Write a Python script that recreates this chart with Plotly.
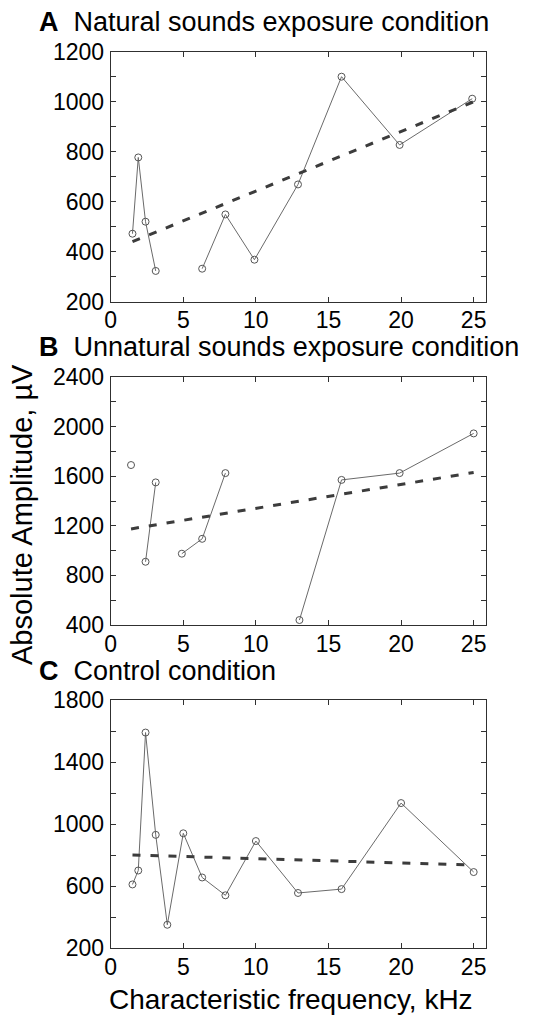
import plotly.graph_objects as go

# Characteristic frequency (kHz) and absolute amplitude (µV); None marks gaps between runs
freq_a = [1.5, 1.9, 2.4, 3.1, None, 6.3, 7.9, 9.9, 12.9, 15.9, 19.9, 24.9]
amp_a = [472, 777, 520, 323, None, 332, 549, 368, 669, 1100, 827, 1012]

freq_b = [1.4, None, 2.4, 3.1, None, 4.9, 6.3, 7.9, None, 13.0, 15.9, 19.9, 25.0]
amp_b = [1690, None, 910, 1550, None, 975, 1095, 1625, None, 440, 1570, 1625, 1945]

freq_c = [1.5, 1.9, 2.4, 3.1, 3.9, 5.0, 6.3, 7.9, 10.0, 12.9, 15.9, 20.0, 25.0]
amp_c = [610, 700, 1590, 930, 350, 940, 655, 540, 890, 555, 580, 1135, 690]

# Linear trend end points
trend_a_x = [1.5, 25.0]
trend_a_y = [440, 1000]
trend_b_x = [1.4, 25.0]
trend_b_y = [1175, 1630]
trend_c_x = [1.5, 25.0]
trend_c_y = [800, 735]

panel_titles = ["Natural sounds exposure condition",
                "Unnatural sounds exposure condition",
                "Control condition"]
panel_letters = ["A", "B", "C"]
y_ranges = [[200, 1200], [400, 2400], [200, 1800]]
y_label_step = [200, 400, 400]
y_minor_step = [100, 200, 200]
x_ticks = [0, 5, 10, 15, 20, 25]

W, H = 557, 1016
FONT = "Liberation Sans, Arial, sans-serif"
TICK_SIZE = 23
TITLE_SIZE = 27
x_dom = [110.7 / W, 486 / W]
# pixel top/bottom of each panel
panel_px = [(51.7, 301.7), (377, 625), (700, 948)]

fig = go.Figure()

series = [(freq_a, amp_a, trend_a_x, trend_a_y),
          (freq_b, amp_b, trend_b_x, trend_b_y),
          (freq_c, amp_c, trend_c_x, trend_c_y)]

for i, (fx, fy, tx, ty) in enumerate(series):
    sfx = "" if i == 0 else str(i + 1)
    fig.add_trace(go.Scatter(
        x=fx, y=fy, mode="lines+markers", xaxis="x" + sfx, yaxis="y" + sfx,
        line=dict(color="#6a6a6a", width=1),
        marker=dict(symbol="circle-open", size=7, color="#555555",
                    line=dict(width=1, color="#555555")),
        connectgaps=False, showlegend=False, hoverinfo="x+y"))
    fig.add_trace(go.Scatter(
        x=tx, y=ty, mode="lines", xaxis="x" + sfx, yaxis="y" + sfx,
        line=dict(color="#3c3c3c", width=3, dash="8px,10px"),
        showlegend=False, hoverinfo="skip"))

layout = dict(
    width=W, height=H, margin=dict(l=0, r=0, t=0, b=0, autoexpand=False),
    paper_bgcolor="white", plot_bgcolor="white",
    font=dict(family=FONT, color="black", size=TICK_SIZE),
    showlegend=False,
)

annotations = []
for i in range(3):
    sfx = "" if i == 0 else str(i + 1)
    top, bot = panel_px[i]
    y_dom = [1 - bot / H, 1 - top / H]
    ax_common = dict(
        showline=True, linecolor="#303030", linewidth=1, mirror="ticks",
        ticks="inside", ticklen=5, tickcolor="#303030", showgrid=False,
        zeroline=False, automargin=False,
        tickfont=dict(family=FONT, size=TICK_SIZE, color="black"),
    )
    layout["xaxis" + sfx] = dict(
        ax_common, domain=x_dom, range=[0, 25.85], tickvals=x_ticks,
        anchor="y" + sfx, ticklabelstandoff=-2,
    )
    lo, hi = y_ranges[i]
    layout["yaxis" + sfx] = dict(
        ax_common, domain=y_dom, range=[lo, hi], anchor="x" + sfx,
        tick0=lo, dtick=y_label_step[i],
        minor=dict(dtick=y_minor_step[i], tick0=lo, ticks="inside",
                   ticklen=5, tickcolor="#303030", showgrid=False),
        ticklabelstandoff=1,
    )
    annotations.append(dict(
        xref="paper", yref="paper", x=38 / W, y=1 - (top - 13.5) / H,
        xanchor="left", yanchor="bottom", showarrow=False, borderpad=0,
        text="<b>%s</b>  %s" % (panel_letters[i], panel_titles[i]),
        font=dict(family=FONT, size=TITLE_SIZE, color="black"),
    ))

annotations.append(dict(
    xref="paper", yref="paper", x=22 / W, y=1 - 515 / H,
    xanchor="center", yanchor="middle", showarrow=False, textangle=-90,
    text="Absolute Amplitude, µV",
    font=dict(family=FONT, size=29, color="black"),
))
annotations.append(dict(
    xref="paper", yref="paper", x=291 / W, y=1 - 999 / H,
    xanchor="center", yanchor="middle", showarrow=False,
    text="Characteristic frequency, kHz",
    font=dict(family=FONT, size=28, color="black"),
))
layout["annotations"] = annotations

fig.update_layout(**layout)
fig.write_html("out.html")
